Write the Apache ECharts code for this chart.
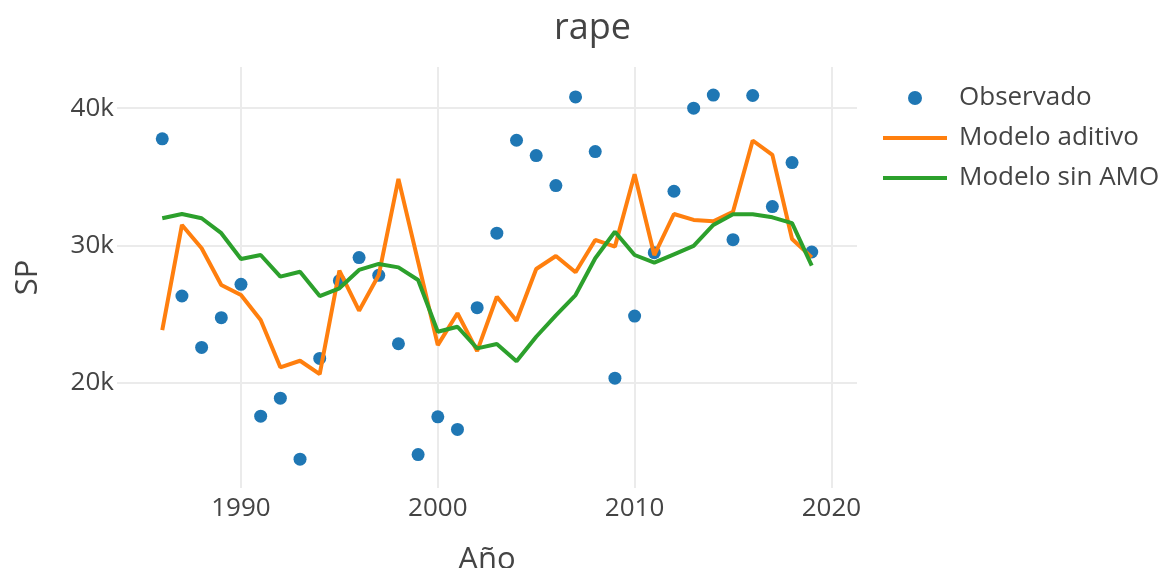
<!DOCTYPE html>
<html>
<head>
<meta charset="utf-8">
<script src="https://cdn.jsdelivr.net/npm/echarts@6/dist/echarts.min.js"></script>
<style>
html, body { margin: 0; padding: 0; background: #fff; }
#chart { width: 1164px; height: 568px; }
</style>
</head>
<body>
<div id="chart"></div>
<script>
// años de la serie
var years = [1986, 1987, 1988, 1989, 1990, 1991, 1992, 1993, 1994, 1995, 1996, 1997,
    1998, 1999, 2000, 2001, 2002, 2003, 2004, 2005, 2006, 2007, 2008, 2009,
    2010, 2011, 2012, 2013, 2014, 2015, 2016, 2017, 2018, 2019];
// SP observado
var observado = [37760, 26300, 22550, 24720, 27150, 17540, 18850, 14400, 21750, 27420, 29100, 27810,
    22820, 14740, 17490, 16570, 25450, 30880, 37660, 36540, 34350, 40820, 36830, 20310,
    24840, 29460, 33940, 40000, 40950, 30410, 40920, 32820, 36030, 29510];
// modelo aditivo
var aditivo = [23820, 31480, 29780, 27100, 26370, 24550, 21100, 21580, 20610, 28150, 25230, 27830,
    34840, 28800, 22720, 25040, 22280, 26250, 24500, 28270, 29220, 28030, 30390, 29900,
    35180, 29290, 32280, 31850, 31750, 32450, 37640, 36590, 30460, 29120];
// modelo sin AMO
var sinAMO = [31970, 32280, 31970, 30880, 29000, 29290, 27710, 28070, 26300, 26860, 28200, 28640,
    28390, 27470, 23690, 24060, 22480, 22800, 21550, 23330, 24890, 26370, 29050, 30990,
    29290, 28730, 29340, 29950, 31480, 32260, 32260, 32040, 31610, 28510];
var seriesNames = ['Observado', 'Modelo aditivo', 'Modelo sin AMO'];

var textColor = '#444';
var gridColor = '#ebebeb';
var fontFamily = '"Open Sans", sans-serif';
var lineIcon = 'path://M0,0 L64,0 L64,4 L0,4 Z';

function pairs(vals) {
    return years.map(function (y, i) { return [y, vals[i]]; });
}

var chart = echarts.init(document.getElementById('chart'));
chart.setOption({
    animation: false,
    backgroundColor: '#fff',
    title: {
        text: 'rape',
        left: 549,
        top: 6,
        textStyle: { color: textColor, fontFamily: fontFamily, fontSize: 36, fontWeight: 'normal' }
    },
    legend: {
        data: [
            { name: seriesNames[0], icon: 'circle' },
            { name: seriesNames[1], icon: lineIcon },
            { name: seriesNames[2], icon: lineIcon }
        ],
        orient: 'vertical',
        left: 883,
        top: 83,
        padding: 0,
        itemWidth: 64,
        itemHeight: 14,
        itemGap: 10,
        textStyle: { color: textColor, fontFamily: fontFamily, fontSize: 26, lineHeight: 30, padding: [0, 0, 0, 7] }
    },
    grid: {
        left: 117,
        right: 307,
        top: 67,
        bottom: 80,
        containLabel: false,
        outerBoundsMode: 'none'
    },
    xAxis: {
        type: 'value',
        min: 1983.7,
        max: 2021.3,
        name: 'Año',
        nameLocation: 'middle',
        nameGap: 57,
        nameTextStyle: { color: textColor, fontFamily: fontFamily, fontSize: 31 },
        axisLine: { show: false },
        axisTick: { show: false },
        axisLabel: {
            color: textColor,
            fontFamily: fontFamily,
            fontSize: 26,
            margin: 8,
            showMinLabel: false,
            showMaxLabel: false,
            formatter: function (v) { return v % 10 === 0 ? String(v) : ''; }
        },
        splitLine: { show: true, showMinLine: false, showMaxLine: false, lineStyle: { color: gridColor, width: 2 } }
    },
    yAxis: {
        type: 'value',
        min: 12300,
        max: 43000,
        splitNumber: 3,
        name: 'SP',
        nameLocation: 'middle',
        nameGap: 73,
        nameTextStyle: { color: textColor, fontFamily: fontFamily, fontSize: 31 },
        axisLine: { show: false },
        axisTick: { show: false },
        axisLabel: {
            color: textColor,
            fontFamily: fontFamily,
            fontSize: 26,
            margin: 3,
            showMinLabel: false,
            showMaxLabel: false,
            formatter: function (v) { return v % 10000 === 0 ? (v / 1000) + 'k' : ''; }
        },
        splitLine: { show: true, showMinLine: false, showMaxLine: false, lineStyle: { color: gridColor, width: 2 } }
    },
    series: [
        {
            name: seriesNames[0],
            type: 'scatter',
            symbol: 'circle',
            symbolSize: 13,
            itemStyle: { color: '#1f77b4', opacity: 1 },
            data: pairs(observado)
        },
        {
            name: seriesNames[1],
            type: 'line',
            symbol: 'none',
            color: '#ff7f0e',
            lineStyle: { color: '#ff7f0e', width: 4 },
            data: pairs(aditivo)
        },
        {
            name: seriesNames[2],
            type: 'line',
            symbol: 'none',
            color: '#2ca02c',
            lineStyle: { color: '#2ca02c', width: 4 },
            data: pairs(sinAMO)
        }
    ]
});
</script>
</body>
</html>
